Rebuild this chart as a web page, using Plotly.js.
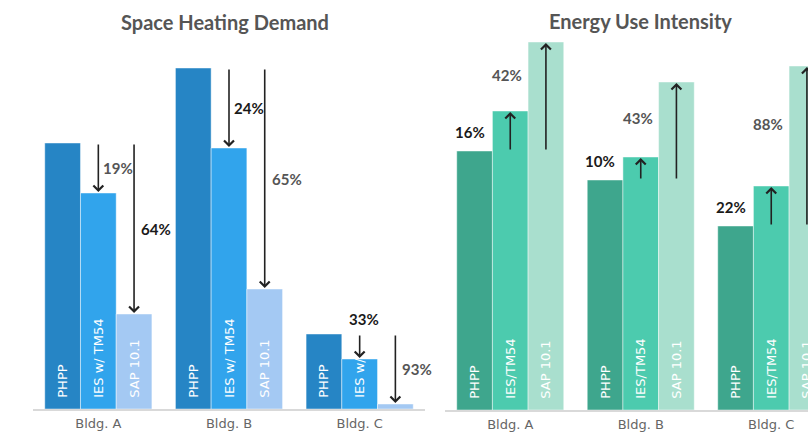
<!DOCTYPE html>
<html>
<head>
<meta charset="utf-8">
<script src="https://cdn.plot.ly/plotly-3.0.1.min.js"></script>
<style>
html,body{margin:0;padding:0;overflow:hidden;background:#fff;}
#chart{width:808px;height:435px;}
</style>
</head>
<body>
<div id="chart"></div>
<script>
// ---- data ----
const buildings = ["Bldg. A", "Bldg. B", "Bldg. C"];

// Space Heating Demand (relative units)
const shdPHPP = [26.6, 34.1, 7.5];
const shdIES  = [21.6, 26.1, 5.0];
const shdSAP  = [9.5, 12.0, 0.5];
const shdIESPct = ["19%", "24%", "33%"];
const shdSAPPct = ["64%", "65%", "93%"];
const shdPHPPText = ["PHPP", "PHPP", "PHPP"];
const shdIESText  = ["IES w/ TM54", "IES w/ TM54", "IES w/"];
const shdSAPText  = ["SAP 10.1", "SAP 10.1", ""];

// Energy Use Intensity (relative units)
const euiPHPP = [25.9, 23.0, 18.4];
const euiIES  = [29.9, 25.3, 22.4];
const euiSAP  = [36.8, 32.8, 34.4];
const euiIESPct = ["16%", "10%", "22%"];
const euiSAPPct = ["42%", "43%", "88%"];
const euiPHPPText = ["PHPP", "PHPP", "PHPP"];
const euiIESText  = ["IES/TM54", "IES/TM54", "IES/TM54"];
const euiSAPText  = ["SAP 10.1", "SAP 10.1", "SAP 10.1"];

// ---- style ----
const FONT = "Lato, 'Open Sans', 'DejaVu Sans', sans-serif";
const WIDEFONT = "'DejaVu Sans', Lato, sans-serif";
const BARGAP = 0.18;
const W = (1 - BARGAP) / 3;
const pad = s => s ? "\u00a0\u00a0" + s : s;

function barTrace(y, text, color, xa, ya) {
  return {
    type: "bar", x: buildings, y: y, xaxis: xa, yaxis: ya,
    text: text.map(pad), textposition: "inside", insidetextanchor: "start",
    textangle: -90, constraintext: "none",
    insidetextfont: {color: "#ffffff", size: 13, family: WIDEFONT},
    marker: {color: color, line: {color: "rgba(255,255,255,0.45)", width: 1}},
    hoverinfo: "skip", showlegend: false
  };
}

const traces = [
  barTrace(shdPHPP, shdPHPPText, "#2685C5", "x", "y"),
  barTrace(shdIES, shdIESText, "#31A4EC", "x", "y"),
  barTrace(shdSAP, shdSAPText, "#A4C9F3", "x", "y"),
  barTrace(euiPHPP, euiPHPPText, "#3EA68D", "x2", "y2"),
  barTrace(euiIES, euiIESText, "#4CCBAE", "x2", "y2"),
  barTrace(euiSAP, euiSAPText, "#A9DFCE", "x2", "y2")
];

const annotations = [];
function arrow(x, yTail, yHead, xa, ya) {
  annotations.push({
    x: x, y: yHead, ax: x, ay: yTail, xref: xa, yref: ya, axref: xa, ayref: ya,
    text: "", showarrow: true, arrowhead: 4, arrowsize: 1.2, arrowwidth: 1.6,
    arrowcolor: "#222", standoff: 1
  });
}
function label(text, x, y, xa, ya, color, xshift, yshift) {
  annotations.push({
    x: x, y: y, xref: xa, yref: ya, text: "<b>" + text + "</b>", showarrow: false,
    font: {family: FONT, size: 15, color: color}, xshift: xshift || 0, yshift: yshift || 0,
    xanchor: "center", yanchor: "middle"
  });
}

const shdIESColor = ["#555", "#1a1a1a", "#1a1a1a"];
const shdSAPColor = ["#1a1a1a", "#555", "#555"];
buildings.forEach((b, i) => {
  arrow(i, shdPHPP[i], shdIES[i], "x", "y");
  arrow(i + W, shdPHPP[i], shdSAP[i], "x", "y");
  if (shdPHPP[i] - shdIES[i] < 4) {
    label(shdIESPct[i], i, shdPHPP[i], "x", "y", shdIESColor[i], 4, 15);
  } else {
    label(shdIESPct[i], i, (shdPHPP[i] + shdIES[i]) / 2, "x", "y", shdIESColor[i], 20, 0);
  }
  label(shdSAPPct[i], i + W, (shdPHPP[i] + shdSAP[i]) / 2, "x", "y", shdSAPColor[i], 22, 0);

  arrow(i, euiPHPP[i], euiIES[i], "x2", "y2");
  arrow(i + W, euiPHPP[i], euiSAP[i], "x2", "y2");
  label(euiIESPct[i], i - W, euiPHPP[i], "x2", "y2", "#1a1a1a", -5, 19);
  label(euiSAPPct[i], i, euiIES[i] + 0.52 * (euiSAP[i] - euiIES[i]), "x2", "y2", "#555", -3, 0);
});

annotations.push({
  xref: "paper", yref: "paper", x: 225 / 808, y: 1 - 22 / 435, xanchor: "center", yanchor: "middle",
  text: "<b>Space Heating Demand</b>", showarrow: false,
  font: {family: FONT, size: 20, color: "#555"}
});
annotations.push({
  xref: "paper", yref: "paper", x: 640 / 808, y: 1 - 21 / 435, xanchor: "center", yanchor: "middle",
  text: "<b>Energy Use Intensity</b>", showarrow: false,
  font: {family: FONT, size: 20, color: "#555"}
});

const xaxisBase = {
  type: "category", showline: true, linecolor: "#d9d9d9", linewidth: 1.5,
  showgrid: false, zeroline: false, ticks: "", fixedrange: true, ticklabelstandoff: 2,
  tickfont: {family: WIDEFONT, size: 13, color: "#666"}
};

const layout = {
  width: 808, height: 435,
  margin: {l: 0, r: 0, t: 0, b: 0},
  paper_bgcolor: "#fff", plot_bgcolor: "#fff",
  barmode: "group", bargap: BARGAP, bargroupgap: 0,
  font: {family: FONT},
  xaxis: Object.assign({}, xaxisBase, {domain: [33 / 808, 425 / 808], anchor: "y", range: [-0.5, 2.5]}),
  yaxis: {domain: [26 / 435, 400 / 435], range: [0, 37.4], visible: false, fixedrange: true, anchor: "x"},
  xaxis2: Object.assign({}, xaxisBase, {domain: [445 / 808, 1], anchor: "y2", range: [-0.5, -0.5 + (808 - 445) / 130.5]}),
  yaxis2: {domain: [25 / 435, 400 / 435], range: [0, 37.5], visible: false, fixedrange: true, anchor: "x2"},
  annotations: annotations
};

Plotly.newPlot("chart", traces, layout, {displayModeBar: false, staticPlot: true});
</script>
</body>
</html>
